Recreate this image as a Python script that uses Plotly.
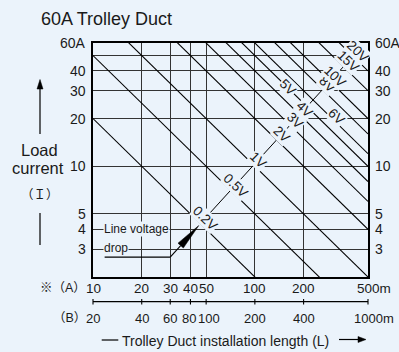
import math
import plotly.graph_objects as go

# ---- data -----------------------------------------------------------------
# Each voltage-drop line follows  I * L = AMP_METRE_PER_VOLT * V  (L on scale A)
VOLTAGES = [0.2, 0.5, 1, 2, 3, 4, 5, 6, 8, 10, 15, 20]
VOLT_TEXT = ["0.2V", "0.5V", "1V", "2V", "3V", "4V", "5V", "6V", "8V", "10V", "15V", "20V"]
AMP_METRE_PER_VOLT = 1000

LENGTH_A = [10, 20, 30, 40, 50, 100, 200, 500]
LENGTH_A_TEXT = ["10", "20", "30", "40", "50", "100", "200", "500m"]
LENGTH_B_TEXT = ["20", "40", "60", "80", "100", "200", "400", "1000m"]

CURRENT_GRID = [3, 4, 5, 10, 20, 30, 40, 50]
CURRENT_TICKS = [60, 40, 30, 20, 10, 5, 4, 3]
CURRENT_TEXT = ["60A", "40", "30", "20", "10", "5", "4", "3"]

L_MIN, L_MAX = 10, 500
I_MIN, I_MAX = 2, 60

# ---- layout constants -------------------------------------------------------
FIG_W, FIG_H = 399, 352
M_L, M_R, M_T, M_B = 93, 31, 43, 75
PLOT_W = FIG_W - M_L - M_R
PLOT_H = FIG_H - M_T - M_B
BG = "#EBF3FB"
INK = "#1a1a1a"
FONT = "Liberation Sans, Arial, Noto Sans CJK JP, sans-serif"

LX0, LX1 = math.log10(L_MIN), math.log10(L_MAX)
LY0, LY1 = math.log10(I_MIN), math.log10(I_MAX)


def to_px(L, I):
    x = M_L + PLOT_W * (math.log10(L) - LX0) / (LX1 - LX0)
    y = M_T + PLOT_H * (LY1 - math.log10(I)) / (LY1 - LY0)
    return x, y


def px_paper(px, py):
    return (px - M_L) / PLOT_W, (FIG_H - M_B - py) / PLOT_H


# guide line on which most voltage labels sit (straight in log-log space)
GUIDE_L0 = 46.0
GUIDE_SLOPE = 1.12
GUIDE_I0 = AMP_METRE_PER_VOLT * VOLTAGES[0] / GUIDE_L0


def guide_cross(v):
    c = AMP_METRE_PER_VOLT * v
    log_l = (math.log10(c) - math.log10(GUIDE_I0) + GUIDE_SLOPE * math.log10(GUIDE_L0)) / (1 + GUIDE_SLOPE)
    L = 10 ** log_l
    return L, c / L


# labels placed away from the guide (length on scale A, pixel shift)
OFF_GUIDE = {5: (160, 0), 6: (305, 3)}
LABEL_SHIFT = 5

fig = go.Figure()

# voltage-drop lines
for v in VOLTAGES:
    c = AMP_METRE_PER_VOLT * v
    fig.add_trace(go.Scatter(
        x=[L_MIN, L_MAX], y=[c / L_MIN, c / L_MAX], mode="lines",
        line=dict(color="black", width=1.1), hoverinfo="skip", showlegend=False))

# guide line through the labels
g_start = guide_cross(VOLTAGES[0])
g_end = guide_cross(VOLTAGES[-1])
fig.add_trace(go.Scatter(
    x=[g_start[0], g_end[0]], y=[g_start[1], g_end[1]], mode="lines",
    line=dict(color="black", width=1.0), hoverinfo="skip", showlegend=False))

annotations = []
shapes = []


def text(px, py, s, size=14, xanchor="center", yanchor="middle", **kw):
    x, y = px_paper(px, py)
    kw.setdefault("borderpad", 0)
    annotations.append(dict(
        x=x, y=y, xref="paper", yref="paper", text=s, showarrow=False,
        xanchor=xanchor, yanchor=yanchor,
        font=dict(family=FONT, size=size, color=INK), **kw))


def seg(p0, p1, width=1.2):
    a = px_paper(*p0)
    b = px_paper(*p1)
    shapes.append(dict(type="line", xref="paper", yref="paper",
                       x0=a[0], y0=a[1], x1=b[0], y1=b[1],
                       line=dict(color="black", width=width)))


def head(tip, base, half):
    dx, dy = tip[0] - base[0], tip[1] - base[1]
    n = math.hypot(dx, dy)
    ox, oy = -dy / n * half, dx / n * half
    pts = [tip, (base[0] + ox, base[1] + oy), (base[0] - ox, base[1] - oy)]
    pp = [px_paper(*p) for p in pts]
    path = "M {} {} L {} {} L {} {} Z".format(pp[0][0], pp[0][1], pp[1][0], pp[1][1], pp[2][0], pp[2][1])
    shapes.append(dict(type="path", xref="paper", yref="paper", path=path,
                       fillcolor="black", line=dict(color="black", width=0.5)))


# voltage labels
for v, t in zip(VOLTAGES, VOLT_TEXT):
    if v in OFF_GUIDE:
        L, shift = OFF_GUIDE[v]
        I = AMP_METRE_PER_VOLT * v / L
    else:
        L, I = guide_cross(v)
        shift = LABEL_SHIFT
    annotations.append(dict(
        x=math.log10(L), y=math.log10(I), xref="x", yref="y", text=t,
        showarrow=False, textangle=44, xshift=shift, yshift=shift,
        bgcolor=BG, borderpad=0,
        font=dict(family=FONT, size=13.5, color=INK)))

# current tick labels on both sides
for val, t in zip(CURRENT_TICKS, CURRENT_TEXT):
    _, py = to_px(L_MIN, val)
    text(M_L - 6, py, t, xanchor="right")
    text(M_L + PLOT_W + 6, py, t, xanchor="left")

# length tick labels, scale A and scale B (crowded ones nudged apart)
for L, ta, tb in zip(LENGTH_A, LENGTH_A_TEXT, LENGTH_B_TEXT):
    px, _ = to_px(L, I_MIN)
    sa = 6 if ta.endswith("m") else 0
    sb = 6 if tb.endswith("m") else 0
    if tb == "80":
        sb = -1
    if tb == "100" and L == 50:
        sb = 2.5
    text(px + sa, 288, ta, size=13.5)
    text(px + sb, 318, tb, size=13)

text(87, 288, "※（A）", size=12.5, xanchor="right")
text(87, 318, "（B）", size=12.5, xanchor="right")

# scale B axis line with ticks
seg((M_L, 301.7), (M_L + PLOT_W, 301.7), width=1.2)
for L in LENGTH_A:
    px, _ = to_px(L, I_MIN)
    seg((px, 299), (px, 304.5), width=1.1)

# axis titles
text(40, 19.5, "60A Trolley Duct", size=18, xanchor="left")
text(39.5, 149.5, "Load", size=16.5)
text(37.5, 168, "current", size=16.5)
text(40, 195, "（Ｉ）", size=12.5)
seg((40, 134), (40, 86))
head((40, 79.5), (40, 89), 3)
seg((40, 213), (40, 245))

text(121, 341, "Trolley Duct installation length (L)", size=14, xanchor="left")
seg((101.7, 340), (118.3, 340))
seg((339, 339.5), (360, 339.5))
head((366, 339.5), (358, 339.5), 3)

# "Line voltage drop" callout pointing at the 0.2 V line
text(103, 228.5, "Line voltage", size=12, xanchor="left", bgcolor=BG)
text(103, 247.5, "drop", size=12, xanchor="left", bgcolor=BG)
LEADER_I = 2.67
lead_start = to_px(11.8, LEADER_I)
lead_corner = to_px(30, LEADER_I)
tip = to_px(*g_start)
tip = (tip[0] - 1.5, tip[1] + 2)
seg(lead_start, lead_corner, width=1.1)
dxy = (tip[0] - lead_corner[0], tip[1] - lead_corner[1])
dn = math.hypot(*dxy)
base = (tip[0] - dxy[0] / dn * 27, tip[1] - dxy[1] / dn * 27)
seg(lead_corner, base, width=1.1)
head(tip, base, 3.6)

fig.update_layout(
    width=FIG_W, height=FIG_H,
    margin=dict(l=M_L, r=M_R, t=M_T, b=M_B, pad=0),
    paper_bgcolor=BG, plot_bgcolor=BG,
    showlegend=False,
    annotations=annotations, shapes=shapes,
    xaxis=dict(type="log", range=[LX0, LX1], tickvals=LENGTH_A[1:-1],
               showticklabels=False, ticks="", showgrid=True,
               gridcolor="#333333", gridwidth=1, zeroline=False,
               showline=True, mirror=True, linecolor="black", linewidth=1.6),
    yaxis=dict(type="log", range=[LY0, LY1], tickvals=CURRENT_GRID,
               showticklabels=False, ticks="", showgrid=True,
               gridcolor="#333333", gridwidth=1, zeroline=False,
               showline=True, mirror=True, linecolor="black", linewidth=1.6),
)

fig.write_html("out.html")
